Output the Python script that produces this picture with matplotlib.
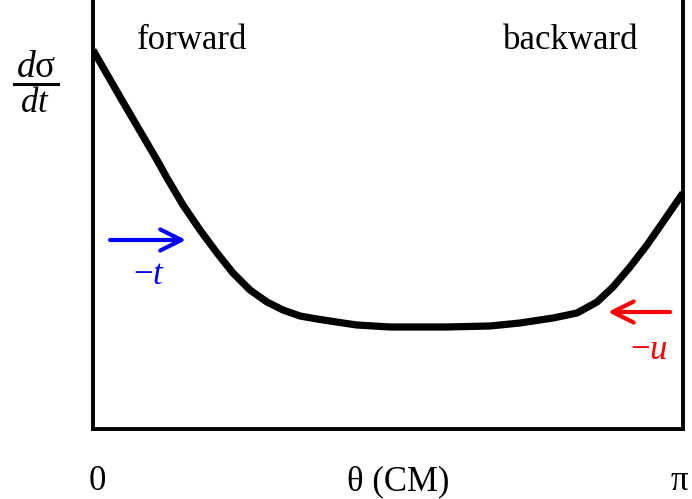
import numpy as np
import matplotlib.pyplot as plt
from matplotlib.transforms import ScaledTranslation

plt.rcParams['font.family'] = ['Liberation Serif', 'DejaVu Serif']
plt.rcParams['mathtext.fontset'] = 'custom'
plt.rcParams['mathtext.rm'] = 'Liberation Serif'
plt.rcParams['mathtext.it'] = 'Liberation Serif:italic'

# angle in CM frame (0..pi) and relative cross section
theta = [0.0, 0.1597, 0.3408, 0.3940, 0.4792, 0.5697, 0.6603, 0.7455,
         0.8360, 0.9265, 1.0117, 1.1022, 1.1927, 1.3312, 1.4057, 1.5814,
         1.8849, 2.1139, 2.2736, 2.4494, 2.5772, 2.6836, 2.7688, 2.8594,
         2.9499, 3.0351, np.pi]
dsigma = [0.8834, 0.7622, 0.6270, 0.5851, 0.5221, 0.4639, 0.4103, 0.3636,
          0.3240, 0.2960, 0.2774, 0.2634, 0.2564, 0.2471, 0.2424, 0.2378,
          0.2378, 0.2401, 0.2471, 0.2587, 0.2704, 0.2960, 0.3310, 0.3776,
          0.4289, 0.4825, 0.5501]

tick_pos = [0, np.pi]
tick_labels = ['0', 'π']

# forward (-t) and backward (-u) arrows: (start x, end x, y)
t_arrow = (0.0905, 0.4952, 0.4406)
u_arrow = (3.0724, 2.742, 0.2727)

fig = plt.figure(figsize=(6.92, 4.99), dpi=100)
ax = fig.add_axes([93 / 692, 70 / 499, 590 / 692, 429 / 499])

ax.plot(theta, dsigma, color='black', lw=5.2, solid_joinstyle='round',
        solid_capstyle='butt')
ax.set_xlim(0, np.pi)
ax.set_ylim(0, 1)

for side in ['left', 'right', 'bottom']:
    ax.spines[side].set_linewidth(2.8)
ax.spines['top'].set_visible(False)

ax.set_yticks([])
ax.set_xticks(tick_pos)
ax.set_xticklabels(tick_labels, fontsize=25)
ax.tick_params(axis='x', length=0, pad=26)
lbls = ax.get_xticklabels()
lbls[0].set_transform(lbls[0].get_transform() + ScaledTranslation(4 / 100, 0, fig.dpi_scale_trans))
lbls[1].set_transform(lbls[1].get_transform() + ScaledTranslation(-4 / 100, 0, fig.dpi_scale_trans))
ax.set_xlabel('θ (CM)', fontsize=25)
ax.xaxis.set_label_coords(0.517, -0.1235)
ax.xaxis.label.set_va('center')

ax.annotate('', xy=(t_arrow[1], t_arrow[2]), xytext=(t_arrow[0], t_arrow[2]),
            arrowprops=dict(arrowstyle='->', color='blue', lw=3,
                            mutation_scale=38, shrinkA=0, shrinkB=0))
ax.annotate('', xy=(u_arrow[1], u_arrow[2]), xytext=(u_arrow[0], u_arrow[2]),
            arrowprops=dict(arrowstyle='->', color='red', lw=3,
                            mutation_scale=38, shrinkA=0, shrinkB=0))

ax.text(0.3, 0.358, '−$t$', color='blue', fontsize=25, ha='center', va='center')
ax.text(2.96, 0.184, '−$u$', color='red', fontsize=25, ha='center', va='center')

ax.text(0.525, 0.905, 'forward', fontsize=25, ha='center', va='center')
ax.text(2.543, 0.905, 'backward', fontsize=25, ha='center', va='center')

# dsigma/dt label on the left
fig.text(36 / 692, 1 - 68 / 499, '$d$σ', fontsize=27, ha='center', va='center')
fig.text(35 / 692, 1 - 104 / 499, '$dt$', fontsize=25, ha='center', va='center')
fig.add_artist(plt.Line2D([14 / 692, 58 / 692], [1 - 84 / 499, 1 - 84 / 499],
                          color='black', lw=2.2))

fig.savefig('out.png', dpi=100)
